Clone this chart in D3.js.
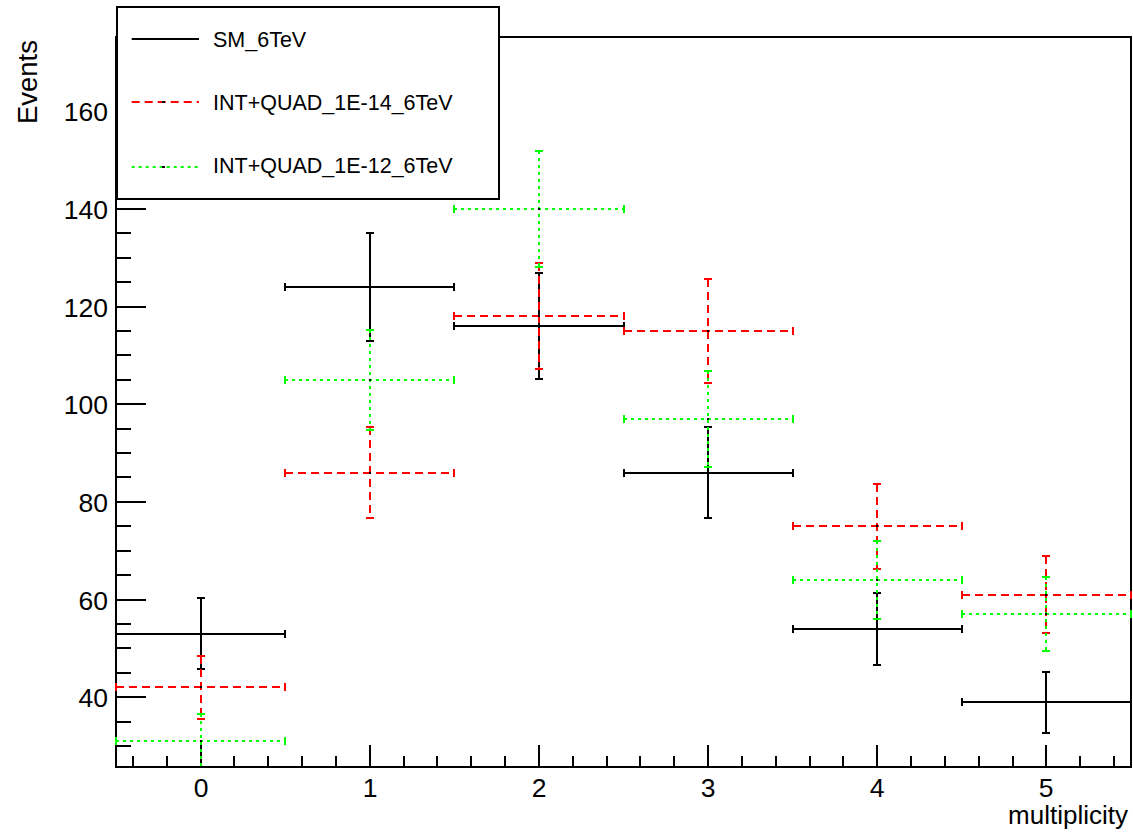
<!DOCTYPE html>
<html>
<head>
<meta charset="utf-8">
<script src="https://cdn.jsdelivr.net/npm/d3@7"></script>
<style>
  html, body { margin: 0; padding: 0; background: #fff; }
  svg { display: block; font-family: "Liberation Sans", Arial, sans-serif; }
</style>
</head>
<body>
<svg id="chart" width="1133" height="833"></svg>
<script>
// ---- data ----
const bins = [0, 1, 2, 3, 4, 5];
const smValues = [53, 124, 116, 86, 54, 39];
const smErrors = [7.28, 11.14, 10.77, 9.27, 7.35, 6.24];
const q14Values = [42, 86, 118, 115, 75, 61];
const q14Errors = [6.48, 9.27, 10.86, 10.72, 8.66, 7.81];
const q12Values = [31, 105, 140, 97, 64, 57];
const q12Errors = [5.57, 10.25, 11.83, 9.85, 8.0, 7.55];
const seriesNames = ["SM_6TeV", "INT+QUAD_1E-14_6TeV", "INT+QUAD_1E-12_6TeV"];
const yMajorTicks = [40, 60, 80, 100, 120, 140, 160];
const xMajorTicks = [0, 1, 2, 3, 4, 5];
const xTitle = "multiplicity";
const yTitle = "Events";

// ---- layout ----
const W = 1133, H = 833;
const frame = { left: 116, right: 1131, top: 37, bottom: 767 };
const svg = d3.select("#chart");
svg.append("rect").attr("width", W).attr("height", H).attr("fill", "#fff");

const x = d3.scaleLinear().domain([-0.5, 5.5]).range([frame.left, frame.right]);
const y = d3.scaleLinear().domain([25.7, 175.2]).range([frame.bottom, frame.top]);
const X = v => Math.round(x(v));
const Y = v => Math.round(y(v));

const styles = [
  { color: "#000000", dash: null },
  { color: "#ff0000", dash: "8,5" },
  { color: "#00ff00", dash: "3,4" }
];
const series = [
  { values: smValues, errors: smErrors },
  { values: q14Values, errors: q14Errors },
  { values: q12Values, errors: q12Errors }
];

// ---- axes ----
const yMinor = d3.range(30, 175, 5).filter(v => !yMajorTicks.includes(v));
const xMinor = d3.range(-4, 55, 2).map(v => v / 10).filter(v => !xMajorTicks.includes(v));

const yAxisMinor = svg.append("g").attr("transform", `translate(${frame.left},0)`)
  .call(d3.axisLeft(y).tickValues(yMinor).tickSize(-15).tickFormat(""));
const yAxis = svg.append("g").attr("transform", `translate(${frame.left},0)`)
  .call(d3.axisLeft(y).tickValues(yMajorTicks).tickSize(-30).tickPadding(8).tickFormat(d3.format("d")));
const xAxisMinor = svg.append("g").attr("transform", `translate(0,${frame.bottom})`)
  .call(d3.axisBottom(x).tickValues(xMinor).tickSize(-11).tickFormat(""));
const xAxis = svg.append("g").attr("transform", `translate(0,${frame.bottom})`)
  .call(d3.axisBottom(x).tickValues(xMajorTicks).tickSize(-22).tickPadding(10).tickFormat(d3.format("d")));

[yAxisMinor, yAxis, xAxisMinor, xAxis].forEach(g => {
  g.select(".domain").remove();
  g.selectAll(".tick line").attr("stroke", "#000").attr("stroke-width", 2);
  g.selectAll(".tick text").attr("fill", "#000").attr("font-size", 26.5)
    .attr("font-family", "Liberation Sans, Arial, sans-serif");
});
// snap tick positions to whole pixels for crisp 2px lines
yAxisMinor.selectAll(".tick").attr("transform", d => `translate(0,${Y(d)})`);
yAxis.selectAll(".tick").attr("transform", d => `translate(0,${Y(d)})`);
xAxisMinor.selectAll(".tick").attr("transform", d => `translate(${X(d)},0)`);
xAxis.selectAll(".tick").attr("transform", d => `translate(${X(d)},0)`);
yAxis.selectAll(".tick text").attr("dy", "0.36em");
xAxis.selectAll(".tick text").attr("dy", "0").attr("y", 29.5);

// ---- frame ----
svg.append("rect")
  .attr("x", frame.left).attr("y", frame.top)
  .attr("width", frame.right - frame.left).attr("height", frame.bottom - frame.top)
  .attr("fill", "none").attr("stroke", "#000").attr("stroke-width", 2);

// ---- data marks ----
svg.append("clipPath").attr("id", "clip").append("rect")
  .attr("x", frame.left - 1).attr("y", frame.top)
  .attr("width", frame.right - frame.left + 2).attr("height", frame.bottom - frame.top);
const plot = svg.append("g").attr("clip-path", "url(#clip)");

const cap = 4;
series.forEach((s, si) => {
  const st = styles[si];
  const g = plot.append("g").attr("stroke", st.color).attr("stroke-width", 2).attr("fill", "none");
  bins.forEach((b, i) => {
    const v = s.values[i], e = s.errors[i];
    const cx = X(b), cy = Y(v);
    const x0 = X(b - 0.5), x1 = X(b + 0.5);
    const yl = Y(v - e), yh = Y(v + e);
    // horizontal bar
    g.append("line").attr("x1", x0).attr("x2", x1).attr("y1", cy).attr("y2", cy)
      .attr("stroke-dasharray", st.dash);
    // vertical error bar
    g.append("line").attr("x1", cx).attr("x2", cx).attr("y1", yh).attr("y2", yl)
      .attr("stroke-dasharray", st.dash);
    // caps
    g.append("line").attr("x1", x0).attr("x2", x0).attr("y1", cy - cap).attr("y2", cy + cap);
    g.append("line").attr("x1", x1).attr("x2", x1).attr("y1", cy - cap).attr("y2", cy + cap);
    g.append("line").attr("x1", cx - cap).attr("x2", cx + cap).attr("y1", yh).attr("y2", yh);
    g.append("line").attr("x1", cx - cap).attr("x2", cx + cap).attr("y1", yl).attr("y2", yl);
    // marker (black dot)
    plot.append("rect").attr("x", cx - 1).attr("y", cy - 1).attr("width", 2).attr("height", 2).attr("fill", "#000");
  });
});

// ---- axis titles ----
svg.append("text")
  .attr("transform", `translate(37,40) rotate(-90)`)
  .attr("text-anchor", "end").attr("font-size", 27.5).attr("fill", "#000")
  .text(yTitle);
svg.append("text")
  .attr("x", 1128).attr("y", 824)
  .attr("text-anchor", "end").attr("font-size", 26).attr("fill", "#000")
  .text(xTitle);

// ---- legend ----
const leg = svg.append("g");
leg.append("rect").attr("x", 117).attr("y", 7).attr("width", 382).attr("height", 192)
  .attr("fill", "#fff").attr("stroke", "#000").attr("stroke-width", 2);
const legLineY = [39, 102, 167];
const legTextY = [46.7, 110, 172.7];
seriesNames.forEach((name, i) => {
  const st = styles[i];
  leg.append("line").attr("x1", 131.7).attr("x2", 199).attr("y1", legLineY[i]).attr("y2", legLineY[i])
    .attr("stroke", st.color).attr("stroke-width", 2).attr("stroke-dasharray", st.dash);
  if (i > 0) {
    leg.append("rect").attr("x", 162).attr("y", legLineY[i] - 1).attr("width", 3).attr("height", 2).attr("fill", "#000");
  }
  leg.append("text").attr("x", 213).attr("y", legTextY[i])
    .attr("font-size", 21.5).attr("fill", "#000").text(name);
});
</script>
</body>
</html>
